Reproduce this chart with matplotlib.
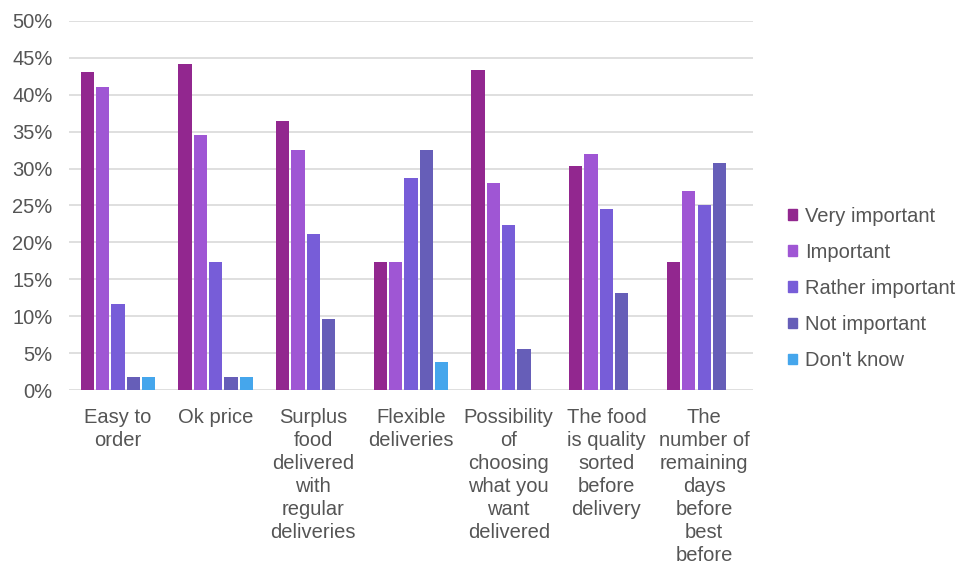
import numpy as np
import matplotlib
matplotlib.use('Agg')
import matplotlib.pyplot as plt
from matplotlib.patches import Patch
from matplotlib.ticker import PercentFormatter

CATEGORIES = [
    'Easy to\norder',
    'Ok price',
    'Surplus\nfood\ndelivered\nwith\nregular\ndeliveries',
    'Flexible\ndeliveries',
    'Possibility\nof\nchoosing\nwhat you\nwant\ndelivered',
    'The food\nis quality\nsorted\nbefore\ndelivery',
    'The\nnumber of\nremaining\ndays\nbefore\nbest\nbefore',
]
SERIES = ['Very important', 'Important', 'Rather important', 'Not important', "Don't know"]

very_important = [43.1, 44.2, 36.4, 17.3, 43.4, 30.3, 17.3]
important = [41.1, 34.6, 32.5, 17.3, 28.1, 32.0, 26.9]
rather_important = [11.6, 17.3, 21.2, 28.7, 22.4, 24.5, 25.1]
not_important = [1.8, 1.8, 9.6, 32.5, 5.6, 13.2, 30.7]
dont_know = [1.8, 1.8, 0.0, 3.8, 0.0, 0.0, 0.0]

COLORS = ['#92278F', '#9F56D4', '#775DD8', '#665EB8', '#45A6EC']
TEXT = '#555555'

plt.rcParams['font.family'] = ['Liberation Sans', 'DejaVu Sans']
plt.rcParams['font.size'] = 14.5

fig = plt.figure(figsize=(9.59, 5.64), dpi=100)
ax = fig.add_axes([0.0720, 0.3085, 0.7132, 0.6543])

x = np.arange(len(CATEGORIES))
step = 0.157
width = 0.136
values = [very_important, important, rather_important, not_important, dont_know]
for i, (vals, col) in enumerate(zip(values, COLORS)):
    v = np.array(vals)
    keep = v > 0
    ax.bar(x[keep] + (i - 2) * step, v[keep], width, color=col, zorder=3)

ax.set_xlim(-0.5, len(CATEGORIES) - 0.5)
ax.set_ylim(0, 50)
ax.set_yticks(np.arange(0, 51, 5))
ax.yaxis.set_major_formatter(PercentFormatter(decimals=0))
ax.yaxis.grid(True, color='#D9D9D9', linewidth=1.2, zorder=0)
ax.set_xticks(x)
ax.set_xticklabels(CATEGORIES, linespacing=1.27)
for s in ax.spines.values():
    s.set_visible(False)
ax.tick_params(axis='y', length=0, pad=12, colors=TEXT)
ax.tick_params(axis='x', length=0, pad=13, colors=TEXT)

handles = [Patch(color=c, label=s) for c, s in zip(COLORS, SERIES)]
leg = fig.legend(handles=handles, loc='center left',
                 bbox_to_anchor=(0.8217, 0.4885), frameon=False,
                 borderpad=0, borderaxespad=0,
                 handlelength=0.45, handleheight=0.45, handletextpad=0.4,
                 labelspacing=0.85, labelcolor=TEXT)

fig.savefig('out.png', dpi=100)
